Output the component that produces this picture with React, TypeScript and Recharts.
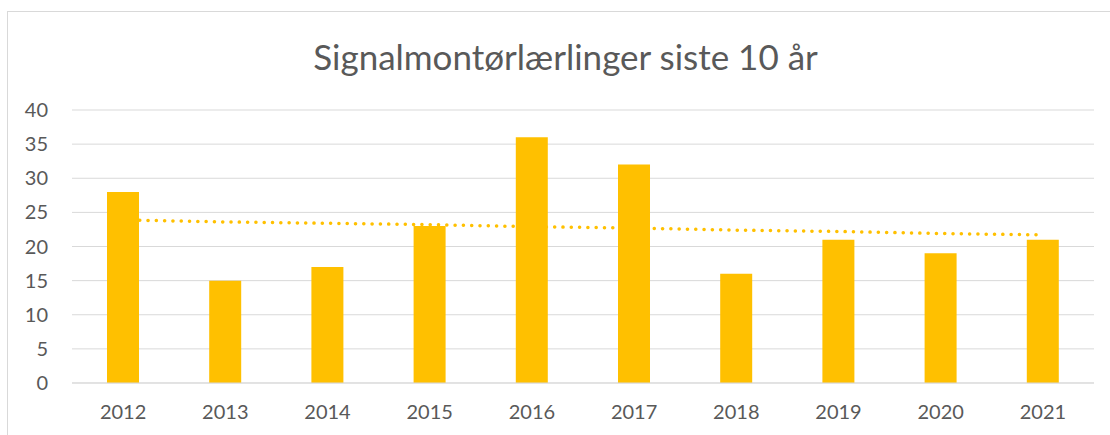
import { ComposedChart, Bar, Line, XAxis, YAxis, CartesianGrid } from 'recharts';

const years = ['2012', '2013', '2014', '2015', '2016', '2017', '2018', '2019', '2020', '2021'];
const apprentices = [28, 15, 17, 23, 36, 32, 16, 21, 19, 21];
// dotted trend line
const trend = [23.9, 23.6, 23.4, 23.2, 22.9, 22.7, 22.4, 22.2, 21.9, 21.7];
const yTicks = [0, 5, 10, 15, 20, 25, 30, 35, 40];

const data = years.map((year, i) => ({ year, value: apprentices[i], trend: trend[i] }));

const font = 'Lato, "Open Sans", sans-serif';
const textColor = '#595959';
const gold = '#FFC000';

export default function App() {
  return (
    <div style={{ position: 'fixed', left: 0, top: 0, width: 1110, height: 435, overflow: 'hidden', background: '#fff', fontFamily: font }}>
      <div style={{ position: 'absolute', left: 7, top: 11, width: 1120, height: 450, border: '1px solid #d9d9d9', boxSizing: 'border-box' }} />
      <div style={{ position: 'absolute', left: 0, width: 1131, top: 34, textAlign: 'center', fontSize: 35, color: textColor, lineHeight: '44px', whiteSpace: 'nowrap' }}>
        Signalmontørlærlinger siste 10 år
      </div>
      <div style={{ position: 'absolute', left: 0, top: 0 }}>
        <ComposedChart width={1110} height={435} data={data} margin={{ top: 110, right: 16, bottom: 0, left: 0 }}>
          <CartesianGrid vertical={false} stroke="#d9d9d9" strokeWidth={1} />
          <XAxis
            dataKey="year"
            axisLine={{ stroke: '#d9d9d9' }}
            tickLine={false}
            tickSize={6}
            tickMargin={16}
            tick={{ fill: textColor, fontSize: 20, fontFamily: font }}
            height={52}
          />
          <YAxis
            domain={[0, 40]}
            ticks={yTicks}
            width={72}
            axisLine={false}
            tickLine={false}
            tickSize={6}
            tickMargin={18}
            tick={{ fill: textColor, fontSize: 20, fontFamily: font }}
          />
          <Bar dataKey="value" fill={gold} barSize={32} isAnimationActive={false} />
          <Line
            dataKey="trend"
            stroke={gold}
            strokeWidth={3.5}
            strokeDasharray="0.1 8.2"
            strokeLinecap="round"
            dot={false}
            activeDot={false}
            isAnimationActive={false}
          />
        </ComposedChart>
      </div>
    </div>
  );
}
